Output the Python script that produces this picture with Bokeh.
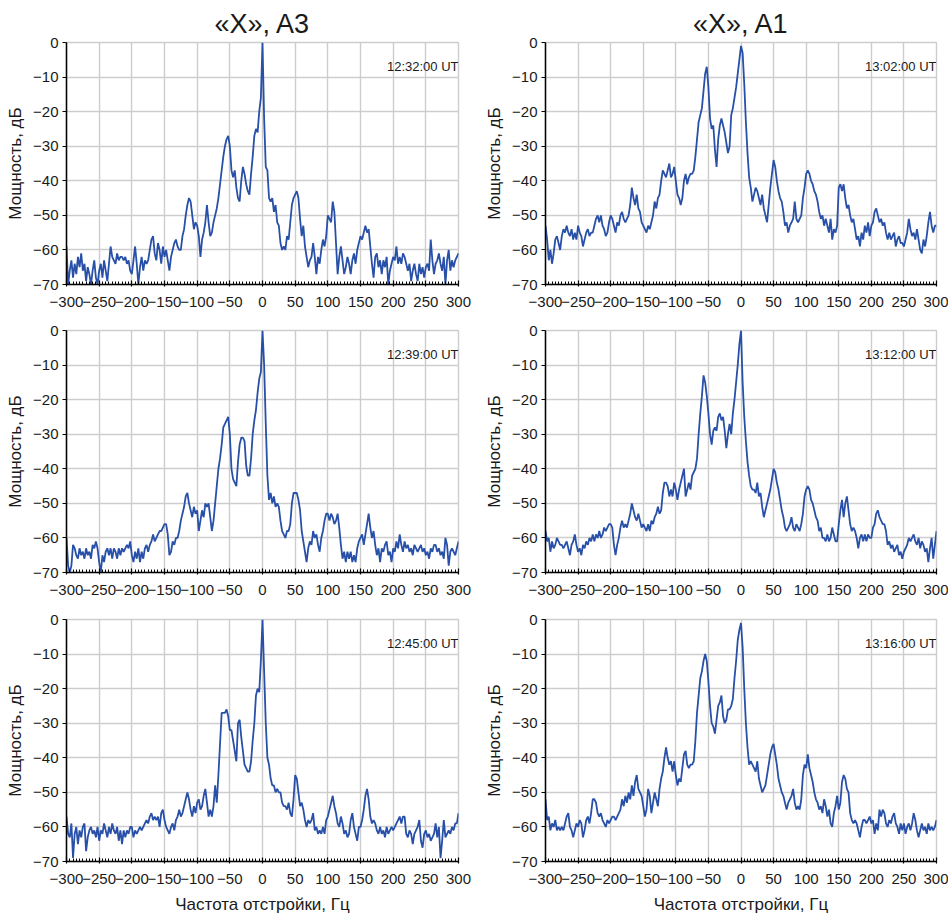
from bokeh.plotting import figure
from bokeh.layouts import column, row
from bokeh.models import Range1d, FixedTicker, Label
from bokeh.embed import file_html
from bokeh.resources import INLINE

# ---------------- data ----------------
FREQ = [-300 + 2.5 * i for i in range(241)]          # Hz, 2.5 Hz grid
X_TICKS = list(range(-300, 301, 50))
X_MINOR = list(range(-300, 301, 5))
Y_TICKS = list(range(-70, 1, 10))

COL_TITLES = ["«X», A3", "«X», A1"]
TIMES = ["12:32:00 UT", "13:02:00 UT",
         "12:39:00 UT", "13:12:00 UT",
         "12:45:00 UT", "13:16:00 UT"]
X_LABEL = "Частота отстройки, Гц"
Y_LABEL = "Мощность, дБ"

A3_1232 = [
    -59, -70, -66, -63, -68, -64, -67, -62, -65, -61,
    -66, -64, -69, -65, -67, -70, -66, -63, -68, -70,
    -66, -64, -68, -63, -66, -69, -64, -59, -62, -63,
    -64, -61, -63, -62, -62, -63, -62, -64, -63, -66,
    -67, -63, -59, -64, -70, -65, -62, -66, -63, -64,
    -63, -60, -57, -56, -61, -63, -58, -60, -64, -59,
    -62, -60, -63, -66, -62, -60, -58, -57, -59, -60,
    -60, -56, -54, -50, -47, -45, -46, -50, -54, -52,
    -53, -56, -62, -57, -55, -52, -47, -52, -56, -55,
    -52, -50, -48, -45, -41, -37, -33, -30, -28, -27,
    -30, -37, -39, -37, -42, -45, -46, -40, -36, -38,
    -41, -43, -44, -38, -33, -27, -25, -26, -20, -16,
    0, -22, -36, -37, -45, -46, -45, -49, -47, -52,
    -53, -58, -60, -59, -60, -56, -57, -52, -47, -45,
    -44, -43, -45, -51, -56, -53, -59, -62, -65, -63,
    -62, -58, -62, -67, -62, -64, -60, -57, -59, -56,
    -50, -51, -52, -46, -49, -58, -67, -62, -59, -63,
    -67, -65, -62, -64, -67, -63, -61, -64, -60, -58,
    -56, -57, -55, -53, -55, -54, -59, -64, -68, -62,
    -61, -65, -63, -67, -63, -65, -62, -70, -66, -64,
    -62, -63, -59, -64, -62, -64, -61, -62, -64, -66,
    -64, -69, -66, -64, -67, -69, -64, -67, -65, -68,
    -65, -64, -66, -57, -63, -67, -64, -63, -61, -64,
    -66, -62, -70, -63, -60, -66, -63, -65, -63, -62, -61,
]

A1_1302 = [
    -53, -57, -63, -60, -64, -61, -57, -56, -58, -60,
    -56, -54, -55, -53, -55, -56, -54, -57, -55, -57,
    -53, -55, -56, -59, -57, -55, -54, -56, -55, -55,
    -53, -51, -50, -52, -50, -53, -54, -56, -55, -52,
    -50, -51, -53, -55, -52, -53, -50, -49, -51, -52,
    -51, -50, -47, -42, -45, -47, -44, -48, -49, -52,
    -53, -54, -55, -53, -54, -52, -50, -46, -48, -45,
    -44, -40, -37, -38, -39, -37, -35, -39, -38, -36,
    -40, -44, -45, -47, -45, -40, -38, -41, -39, -38,
    -38, -37, -33, -28, -23, -21, -19, -14, -9, -7,
    -13, -22, -25, -24, -31, -36, -28, -24, -22, -24,
    -26, -29, -32, -30, -21, -19, -16, -13, -9, -5,
    -1, -3, -12, -23, -32, -39, -42, -46, -44, -42,
    -43, -45, -47, -44, -48, -50, -52, -47, -42, -38,
    -34, -36, -40, -43, -45, -46, -49, -53, -52, -55,
    -53, -52, -51, -46, -51, -52, -51, -50, -45, -42,
    -38, -37, -38, -40, -41, -43, -44, -46, -49, -51,
    -50, -53, -51, -53, -55, -51, -57, -54, -55, -53,
    -42, -41, -43, -41, -45, -48, -47, -50, -52, -51,
    -54, -57, -56, -59, -55, -57, -53, -55, -52, -56,
    -53, -52, -49, -48, -50, -52, -51, -53, -52, -55,
    -57, -55, -57, -56, -55, -59, -57, -56, -58, -58,
    -59, -57, -55, -51, -54, -56, -55, -57, -54, -57,
    -60, -61, -57, -59, -56, -52, -49, -53, -55, -53, -53,
]

A3_1239 = [
    -60, -68, -70, -68, -62, -63, -65, -66, -63, -65,
    -64, -66, -63, -65, -64, -66, -62, -63, -61, -63,
    -67, -70, -65, -67, -64, -63, -65, -63, -66, -63,
    -64, -66, -63, -65, -63, -64, -63, -62, -63, -61,
    -65, -67, -64, -66, -63, -67, -64, -66, -63, -62,
    -64, -62, -61, -59, -61, -60, -59, -58, -58, -57,
    -56, -56, -59, -65, -64, -61, -62, -60, -60, -58,
    -55, -53, -51, -48, -47, -50, -52, -54, -51, -53,
    -52, -58, -55, -52, -54, -50, -51, -50, -54, -58,
    -55, -50, -45, -40, -37, -33, -28, -27, -26, -25,
    -30, -40, -43, -44, -45, -38, -33, -31, -31, -32,
    -39, -42, -42, -37, -30, -26, -23, -18, -14, -12,
    0, -10, -27, -42, -49, -47, -50, -48, -51, -50,
    -51, -55, -58, -59, -60, -58, -58, -56, -50, -47,
    -47, -47, -49, -52, -58, -61, -64, -67, -63, -61,
    -62, -58, -60, -59, -62, -64, -60, -58, -55, -53,
    -53, -55, -53, -54, -56, -55, -53, -57, -62, -66,
    -64, -67, -64, -66, -64, -67, -65, -67, -63, -61,
    -60, -59, -62, -59, -56, -53, -57, -60, -58, -62,
    -65, -63, -67, -63, -64, -62, -61, -65, -64, -67,
    -63, -64, -61, -63, -59, -62, -64, -61, -63, -62,
    -64, -63, -65, -62, -63, -64, -63, -62, -64, -63,
    -65, -64, -66, -63, -64, -62, -62, -64, -63, -65,
    -64, -66, -60, -62, -68, -64, -63, -64, -65, -63, -61,
]

A1_1312 = [
    -58, -61, -60, -64, -61, -63, -62, -60, -61, -62,
    -62, -63, -62, -61, -63, -65, -62, -61, -59, -62,
    -64, -63, -65, -62, -63, -61, -62, -60, -61, -59,
    -61, -59, -60, -58, -60, -59, -57, -58, -57, -56,
    -56, -57, -62, -65, -62, -60, -57, -55, -57, -56,
    -57, -55, -53, -50, -52, -54, -55, -53, -55, -57,
    -56, -57, -58, -56, -58, -55, -56, -54, -53, -51,
    -53, -52, -47, -44, -44, -45, -48, -46, -48, -44,
    -46, -49, -46, -44, -42, -40, -48, -46, -44, -46,
    -42, -41, -40, -37, -30, -24, -19, -13, -15, -19,
    -24, -30, -33, -29, -28, -29, -25, -24, -26, -25,
    -29, -34, -30, -27, -30, -24, -20, -15, -10, -4,
    0, -15, -25, -32, -38, -42, -45, -46, -46, -47,
    -44, -48, -47, -51, -54, -52, -50, -48, -46, -43,
    -40, -41, -44, -46, -49, -52, -54, -57, -58, -57,
    -56, -54, -57, -58, -56, -57, -58, -56, -53, -48,
    -46, -45, -46, -49, -50, -52, -54, -55, -58, -57,
    -60, -60, -61, -59, -61, -60, -57, -59, -61, -61,
    -56, -52, -49, -54, -50, -48, -52, -56, -58, -57,
    -58, -60, -63, -60, -59, -61, -59, -61, -59, -60,
    -60, -57, -56, -53, -52, -54, -55, -56, -56, -58,
    -62, -61, -63, -62, -64, -63, -62, -65, -64, -66,
    -64, -63, -62, -60, -61, -60, -59, -61, -62, -60,
    -63, -61, -62, -64, -63, -67, -63, -60, -66, -62, -58,
]

A3_1245 = [
    -57, -62, -63, -59, -69, -62, -60, -65, -61, -63,
    -60, -59, -67, -63, -61, -60, -62, -61, -63, -60,
    -64, -61, -62, -59, -61, -63, -60, -62, -59, -61,
    -62, -60, -64, -61, -65, -61, -63, -61, -62, -60,
    -60, -63, -61, -62, -61, -60, -61, -60, -59, -58,
    -59, -57, -56, -58, -57, -58, -57, -60, -56, -55,
    -58, -60, -61, -62, -60, -59, -61, -58, -57, -55,
    -57, -56, -54, -52, -50, -52, -55, -57, -54, -56,
    -53, -52, -55, -54, -51, -49, -53, -57, -55, -57,
    -54, -48, -53, -45, -36, -27, -27, -27, -26, -28,
    -32, -32, -35, -38, -41, -30, -29, -34, -38, -42,
    -43, -44, -44, -41, -35, -30, -22, -20, -21, -12,
    0, -15, -30, -40, -42, -46, -48, -48, -50, -49,
    -50, -50, -53, -54, -54, -55, -53, -56, -57, -52,
    -45, -46, -50, -54, -53, -55, -58, -60, -58, -59,
    -58, -56, -61, -60, -62, -61, -62, -60, -62, -58,
    -57, -55, -53, -51, -54, -56, -59, -60, -57, -59,
    -62, -61, -63, -62, -58, -56, -60, -62, -64, -60,
    -60, -58, -55, -51, -49, -52, -57, -59, -58, -59,
    -61, -62, -60, -62, -61, -63, -60, -62, -61, -60,
    -61, -60, -59, -58, -57, -59, -57, -57, -62, -63,
    -61, -62, -65, -62, -61, -60, -58, -64, -66, -62,
    -61, -63, -62, -64, -63, -62, -59, -63, -60, -69,
    -64, -58, -63, -62, -61, -62, -60, -61, -59, -59, -56,
]

A1_1316 = [
    -52, -58, -57, -61, -59, -60, -58, -61, -60, -61,
    -60, -61, -59, -57, -56, -60, -61, -63, -61, -59,
    -60, -58, -59, -63, -61, -58, -57, -59, -56, -52,
    -52, -53, -56, -57, -56, -58, -59, -60, -58, -59,
    -58, -57, -57, -58, -57, -56, -55, -52, -54, -51,
    -53, -50, -52, -48, -51, -47, -45, -49, -50, -51,
    -54, -57, -55, -49, -51, -56, -53, -50, -52, -54,
    -49, -46, -44, -40, -37, -40, -42, -41, -44, -41,
    -45, -48, -46, -47, -43, -39, -38, -42, -43, -42,
    -42, -41, -35, -27, -22, -17, -15, -12, -10, -12,
    -18, -25, -30, -31, -33, -29, -25, -24, -22, -28,
    -30, -29, -26, -26, -25, -23, -17, -12, -6, -3,
    -1, -8, -20, -30, -37, -42, -41, -42, -43, -44,
    -41, -46, -48, -50, -49, -48, -45, -42, -39, -37,
    -36, -39, -42, -46, -48, -50, -51, -53, -55, -53,
    -52, -51, -49, -53, -55, -54, -55, -52, -45, -42,
    -43, -39, -43, -45, -47, -50, -52, -53, -55, -54,
    -56, -52, -54, -57, -55, -59, -60, -56, -54, -51,
    -55, -53, -47, -45, -46, -49, -50, -56, -58, -59,
    -58, -59, -61, -63, -60, -58, -58, -59, -58, -57,
    -59, -58, -62, -59, -61, -55, -57, -55, -56, -59,
    -60, -58, -59, -57, -56, -59, -60, -62, -59, -61,
    -59, -62, -60, -59, -61, -59, -56, -58, -61, -63,
    -61, -59, -61, -60, -62, -59, -61, -60, -61, -60, -58,
]

PANELS = [A3_1232, A1_1302, A3_1239, A1_1312, A3_1245, A1_1316]

# ---------------- style ----------------
FONT = "Liberation Sans"
LINE_COLOR = "#2850a8"
GRID_COLOR = "#cdcdcd"
TEXT_COLOR = "#1a1a1a"


def minus(v):
    return ("\u2212%d" % -v) if v < 0 else str(v)


def make(i, data):
    r, c = divmod(i, 2)
    top = [42, 17, 18][r]
    bottom = [29, 29, 52][r]
    right = 21 if c == 0 else 12
    fw = 392 if c == 0 else 391
    p = figure(frame_width=fw, frame_height=242,
               x_range=Range1d(-300, 300), y_range=Range1d(-70, 0),
               output_backend="svg", toolbar_location=None,
               min_border_left=66, min_border_right=right,
               min_border_top=top, min_border_bottom=bottom,
               background_fill_color="white", border_fill_color="white")
    p.line(FREQ, data, line_color=LINE_COLOR, line_width=1.8)

    p.xaxis.ticker = FixedTicker(ticks=X_TICKS, minor_ticks=X_MINOR)
    p.yaxis.ticker = FixedTicker(ticks=Y_TICKS, minor_ticks=[])
    p.xaxis.major_label_overrides = {v: minus(v) for v in X_TICKS}
    p.yaxis.major_label_overrides = {v: minus(v) for v in Y_TICKS}

    for ax in (p.xaxis[0], p.yaxis[0]):
        ax.axis_line_color = "black"
        ax.axis_line_width = 1.5
        ax.major_tick_line_color = "black"
        ax.major_tick_line_width = 1.2
        ax.minor_tick_line_color = "black"
        ax.minor_tick_line_width = 1
        ax.major_label_text_font = FONT
        ax.major_label_text_font_size = "15px"
        ax.major_label_text_color = TEXT_COLOR
        ax.axis_label_text_font = FONT
        ax.axis_label_text_font_size = "17px"
        ax.axis_label_text_font_style = "normal"
        ax.axis_label_text_color = TEXT_COLOR

    p.xaxis.major_label_standoff = 10
    p.yaxis.major_label_standoff = 4
    p.xaxis.major_tick_in = 4
    p.xaxis.major_tick_out = 2
    p.xaxis.minor_tick_in = 3
    p.xaxis.minor_tick_out = 0
    p.yaxis.major_tick_in = 0
    p.yaxis.major_tick_out = 4
    p.yaxis.minor_tick_in = 0
    p.yaxis.minor_tick_out = 0

    p.yaxis.axis_label = Y_LABEL
    p.yaxis.axis_label_standoff = 5
    if r == 2:
        p.xaxis.axis_label = X_LABEL
        p.xaxis.axis_label_standoff = 8

    p.grid.grid_line_color = GRID_COLOR
    p.grid.grid_line_width = 1.4
    p.outline_line_color = GRID_COLOR
    p.outline_line_width = 1.4

    p.add_layout(Label(x=300, y=0, y_offset=-24, text=TIMES[i],
                       text_align="right", text_baseline="middle",
                       text_font=FONT, text_font_size="13px",
                       text_color=TEXT_COLOR))
    if r == 0:
        p.title.text = COL_TITLES[c]
        p.title.align = "center"
        p.title.text_font = FONT
        p.title.text_font_size = "27px"
        p.title.text_font_style = "normal"
        p.title.text_color = TEXT_COLOR
        p.title.standoff = 8
    return p


figs = [make(i, d) for i, d in enumerate(PANELS)]
layout = column(row(figs[0], figs[1]), row(figs[2], figs[3]), row(figs[4], figs[5]))

open("out.html", "w").write(file_html(layout, INLINE))
